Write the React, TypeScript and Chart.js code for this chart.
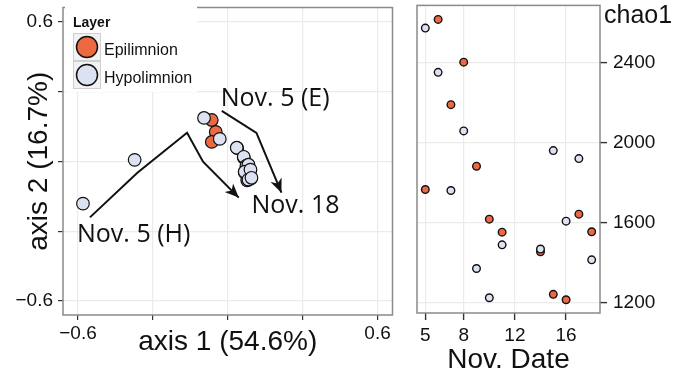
import React, { useEffect, useRef } from 'react';
import { Chart, registerables } from 'chart.js';

Chart.register(...registerables);

// ---------- Data ----------
const layerNames = ['Epilimnion', 'Hypolimnion'];
const layerColors = ['#EC6942', '#DCE2F2'];

// PCoA ordination (left panel)
const pcoaEpiX = [-0.064, -0.048, -0.064, 0.038, 0.064, 0.076, 0.082, 0.068, 0.09, 0.093, 0.078, 0.085];
const pcoaEpiY = [0.177, 0.126, 0.083, 0.056, 0.016, -0.022, -0.018, -0.048, -0.04, -0.074, -0.082, -0.078];
const pcoaHypoX = [-0.58, -0.373, -0.095, -0.032, 0.036, 0.064, 0.075, 0.083, 0.068, 0.091, 0.083, 0.095];
const pcoaHypoY = [-0.182, 0.006, 0.186, 0.096, 0.058, 0.019, -0.019, -0.015, -0.045, -0.036, -0.079, -0.071];
const pcoaTicks = [-0.6, -0.3, 0, 0.3, 0.6];
const pcoaTickLabels = ['\u22120.6', '', '', '', '0.6'];

// Trajectory arrows
const arrowHX = [-0.552, -0.362, -0.163, -0.099, 0.044];
const arrowHY = [-0.241, -0.049, 0.122, -0.002, -0.156];
const arrowEX = [-0.024, 0.115, 0.215];
const arrowEY = [0.216, 0.122, -0.135];

// Annotations
const noteTexts = ['Nov. 5 (E)', 'Nov. 5 (H)', 'Nov. 18'];
const noteX = [-0.028, -0.604, 0.095];
const noteY = [0.237, -0.348, -0.22];

// chao1 richness (right panel)
const novDates = [5, 6, 7, 8, 9, 10, 11, 14, 15, 16, 17, 18];
const chaoEpi = [1766, 2614, 2189, 2401, 1882, 1618, 1553, 1455, 1243, 1216, 1643, 1555];
const chaoHypo = [2571, 2350, 1761, 2058, 1372, 1226, 1490, 1469, 1960, 1608, 1920, 1415];
const dateTicks = [5, 8, 12, 16];
const chaoTicks = [1200, 1600, 2000, 2400];

// ---------- Helpers ----------
const FONT = '"Liberation Sans", Arial, Helvetica, sans-serif';
const TEXT = '#111111';
const GRID = '#ebebeb';
const FRAME = '#8a8a8a';

const zip = (xs: number[], ys: number[]) => xs.map((x, i) => ({ x, y: ys[i] }));

const framePlugin = {
  id: 'frame',
  beforeDatasetsDraw(chart: any) {
    const { ctx, chartArea: a } = chart;
    ctx.save();
    ctx.strokeStyle = FRAME;
    ctx.lineWidth = 1.5;
    ctx.strokeRect(a.left, a.top, a.right - a.left, a.bottom - a.top);
    ctx.restore();
  },
};

const arrowPlugin = {
  id: 'arrowHeads',
  afterDatasetsDraw(chart: any) {
    const { ctx } = chart;
    chart.data.datasets.forEach((ds: any, i: number) => {
      if (!ds.arrowHead) return;
      const pts = chart.getDatasetMeta(i).data;
      const p1 = pts[pts.length - 2];
      const p2 = pts[pts.length - 1];
      const ang = Math.atan2(p2.y - p1.y, p2.x - p1.x);
      const len = 14;
      const half = 6;
      const notch = 10;
      ctx.save();
      ctx.translate(p2.x, p2.y);
      ctx.rotate(ang);
      ctx.fillStyle = '#111';
      ctx.beginPath();
      ctx.moveTo(0, 0);
      ctx.lineTo(-len, -half);
      ctx.lineTo(-notch, 0);
      ctx.lineTo(-len, half);
      ctx.closePath();
      ctx.fill();
      ctx.restore();
    });
  },
};

const notePlugin = {
  id: 'notes',
  afterDatasetsDraw(chart: any) {
    const { ctx, scales } = chart;
    ctx.save();
    ctx.fillStyle = TEXT;
    ctx.font = '25px "Open Sans", "Liberation Sans", sans-serif';
    ctx.textAlign = 'left';
    ctx.textBaseline = 'alphabetic';
    noteTexts.forEach((t, i) => {
      ctx.fillText(t, scales.x.getPixelForValue(noteX[i]), scales.y.getPixelForValue(noteY[i]));
    });
    ctx.restore();
  },
};

const legendPlugin = {
  id: 'ggLegend',
  afterDraw(chart: any) {
    const { ctx } = chart;
    ctx.save();
    ctx.fillStyle = '#ffffff';
    ctx.fillRect(65, 6, 132, 86);
    ctx.fillStyle = TEXT;
    ctx.font = `bold 14px ${FONT}`;
    ctx.textBaseline = 'alphabetic';
    ctx.fillText('Layer', 73, 27);
    layerNames.forEach((name, i) => {
      const top = 33 + 28 * i;
      ctx.fillStyle = '#f2f2f2';
      ctx.fillRect(73, top, 28, 28);
      ctx.strokeStyle = '#cfcfcf';
      ctx.lineWidth = 1;
      ctx.strokeRect(73.5, top + 0.5, 27, 27);
      ctx.beginPath();
      ctx.arc(87, top + 14, 10.5, 0, Math.PI * 2);
      ctx.fillStyle = layerColors[i];
      ctx.fill();
      ctx.strokeStyle = '#111';
      ctx.lineWidth = 1.5;
      ctx.stroke();
      ctx.fillStyle = TEXT;
      ctx.font = `16px ${FONT}`;
      ctx.fillText(name, 104, top + 22);
    });
    ctx.restore();
  },
};

const chaoLabelPlugin = {
  id: 'chaoLabel',
  afterDraw(chart: any) {
    const { ctx, chartArea } = chart;
    ctx.save();
    ctx.fillStyle = TEXT;
    ctx.font = `25px ${FONT}`;
    ctx.textAlign = 'left';
    ctx.textBaseline = 'alphabetic';
    ctx.fillText('chao1', chartArea.right + 4, 23);
    ctx.restore();
  },
};

const fixTicks = (vals: number[]) => (s: any) => {
  s.ticks = vals.map((v) => ({ value: v }));
};

function LeftChart() {
  const ref = useRef<HTMLCanvasElement>(null);
  useEffect(() => {
    const chart = new Chart(ref.current as HTMLCanvasElement, {
      type: 'scatter',
      data: {
        datasets: [
          {
            label: 'arrowH',
            data: zip(arrowHX, arrowHY),
            showLine: true,
            borderColor: '#111',
            borderWidth: 2,
            pointRadius: 0,
            fill: false,
            order: 0,
            arrowHead: true,
          } as any,
          {
            label: 'arrowE',
            data: zip(arrowEX, arrowEY),
            showLine: true,
            borderColor: '#111',
            borderWidth: 2,
            pointRadius: 0,
            fill: false,
            order: 0,
            arrowHead: true,
          } as any,
          {
            label: layerNames[1],
            data: zip(pcoaHypoX, pcoaHypoY),
            backgroundColor: layerColors[1],
            borderColor: '#111',
            borderWidth: 1.2,
            pointRadius: 6.3,
            order: 1,
          },
          {
            label: layerNames[0],
            data: zip(pcoaEpiX, pcoaEpiY),
            backgroundColor: layerColors[0],
            borderColor: '#111',
            borderWidth: 1.2,
            pointRadius: 6.3,
            order: 2,
          },
        ],
      },
      options: {
        animation: false,
        responsive: false,
        maintainAspectRatio: false,
        events: [],
        layout: { padding: { left: 0, top: 5, right: 6, bottom: 0 } },
        plugins: { legend: { display: false }, tooltip: { enabled: false } },
        scales: {
          x: {
            type: 'linear',
            min: -0.66,
            max: 0.66,
            afterBuildTicks: fixTicks(pcoaTicks),
            ticks: {
              autoSkip: false,
              maxRotation: 0,
              padding: 2,
              color: TEXT,
              font: { size: 19, family: FONT },
              callback: (v: any) => pcoaTickLabels[pcoaTicks.findIndex((t) => Math.abs(t - v) < 1e-9)] ?? '',
            },
            grid: { color: GRID, lineWidth: 1.2, tickColor: '#333', tickLength: 5, tickWidth: 1.2 },
            border: { display: false },
            title: {
              display: true,
              text: 'axis 1 (54.6%)',
              color: TEXT,
              font: { size: 28, family: FONT },
              padding: { top: 0, bottom: 22 },
            },
            afterFit: (s: any) => {
              s.height = 66;
              s.paddingLeft = 0;
              s.paddingRight = 0;
            },
          },
          y: {
            type: 'linear',
            min: -0.66,
            max: 0.66,
            afterBuildTicks: fixTicks(pcoaTicks),
            ticks: {
              autoSkip: false,
              padding: 5,
              color: TEXT,
              font: { size: 19, family: FONT },
              callback: (v: any) => pcoaTickLabels[pcoaTicks.findIndex((t) => Math.abs(t - v) < 1e-9)] ?? '',
            },
            grid: { color: GRID, lineWidth: 1.2, tickColor: '#333', tickLength: 5, tickWidth: 1.2 },
            border: { display: false },
            title: {
              display: true,
              text: 'axis 2 (16.7%)',
              color: TEXT,
              font: { size: 28, family: FONT },
              padding: { top: 22, bottom: 0 },
            },
            afterFit: (s: any) => {
              s.width = 63;
              s.paddingTop = 0;
              s.paddingBottom = 0;
            },
          },
        },
      },
      plugins: [framePlugin, arrowPlugin, notePlugin, legendPlugin],
    } as any);
    return () => chart.destroy();
  }, []);
  return (
    <canvas
      ref={ref}
      width={400}
      height={381}
      style={{ position: 'absolute', left: 0, top: 0, width: 400, height: 381, display: 'block' }}
    />
  );
}

function RightChart() {
  const ref = useRef<HTMLCanvasElement>(null);
  useEffect(() => {
    const chart = new Chart(ref.current as HTMLCanvasElement, {
      type: 'scatter',
      data: {
        datasets: [
          {
            label: layerNames[1],
            data: zip(novDates, chaoHypo),
            backgroundColor: layerColors[1],
            borderColor: '#111',
            borderWidth: 1.4,
            pointRadius: 3.8,
            order: 0,
          },
          {
            label: layerNames[0],
            data: zip(novDates, chaoEpi),
            backgroundColor: layerColors[0],
            borderColor: '#111',
            borderWidth: 1.4,
            pointRadius: 3.8,
            order: 1,
          },
        ],
      },
      options: {
        animation: false,
        responsive: false,
        maintainAspectRatio: false,
        events: [],
        layout: { padding: { left: 17, top: 5, right: 0, bottom: 0 } },
        plugins: { legend: { display: false }, tooltip: { enabled: false } },
        scales: {
          x: {
            type: 'linear',
            min: 4.35,
            max: 18.65,
            afterBuildTicks: fixTicks(dateTicks),
            ticks: {
              autoSkip: false,
              maxRotation: 0,
              padding: 4,
              color: TEXT,
              font: { size: 19, family: FONT },
              callback: (v: any) => String(v),
            },
            grid: { color: GRID, lineWidth: 1.2, tickColor: '#333', tickLength: 7, tickWidth: 1.4 },
            border: { display: false },
            title: {
              display: true,
              text: 'Nov. Date',
              color: TEXT,
              font: { size: 28, family: FONT },
              padding: { top: 0, bottom: 4 },
            },
            afterFit: (s: any) => {
              s.height = 68;
              s.paddingLeft = 0;
              s.paddingRight = 0;
            },
          },
          y: {
            type: 'linear',
            position: 'right',
            min: 1150,
            max: 2684,
            afterBuildTicks: fixTicks(chaoTicks),
            ticks: {
              autoSkip: false,
              padding: 6,
              color: TEXT,
              font: { size: 19, family: FONT },
              callback: (v: any) => String(v),
            },
            grid: { color: GRID, lineWidth: 1.2, tickColor: '#333', tickLength: 7, tickWidth: 1.4 },
            border: { display: false },
            afterFit: (s: any) => {
              s.width = 76;
              s.paddingTop = 0;
              s.paddingBottom = 0;
            },
          },
        },
      },
      plugins: [framePlugin, chaoLabelPlugin],
    } as any);
    return () => chart.destroy();
  }, []);
  return (
    <canvas
      ref={ref}
      width={276}
      height={381}
      style={{ position: 'absolute', left: 400, top: 0, width: 276, height: 381, display: 'block' }}
    />
  );
}

export default function App() {
  return (
    <div
      style={{
        position: 'fixed',
        left: 0,
        top: 0,
        width: 676,
        height: 381,
        background: '#ffffff',
        overflow: 'hidden',
        fontFamily: FONT,
      }}
    >
      <LeftChart />
      <RightChart />
    </div>
  );
}
